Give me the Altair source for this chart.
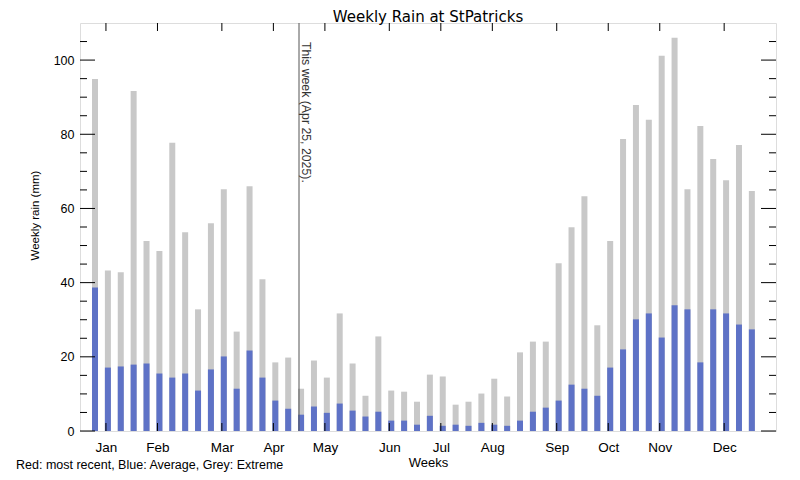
import altair as alt
import pandas as pd

weeks = list(range(1, 53))
average = [38.7, 17.1, 17.4, 17.9, 18.2, 15.5, 14.4, 15.5, 10.9, 16.6, 20.1, 11.4, 21.7,
           14.4, 8.2, 6.0, 4.4, 6.6, 4.9, 7.4, 5.5, 3.9, 5.2, 2.8, 2.8, 1.7, 4.1, 1.4,
           1.7, 1.4, 2.2, 1.7, 1.4, 2.8, 5.2, 6.3, 8.2, 12.5, 11.4, 9.5, 17.1, 22.0,
           30.1, 31.7, 25.2, 33.9, 32.8, 18.5, 32.8, 31.7, 28.7, 27.4]
extreme = [94.9, 43.3, 42.8, 91.7, 51.2, 48.5, 77.7, 53.6, 32.8, 56.0, 65.2, 26.8, 66.0,
           40.9, 18.5, 19.8, 11.4, 19.0, 14.4, 31.7, 18.2, 9.5, 25.5, 10.9, 10.6, 7.9,
           15.2, 14.7, 7.1, 7.9, 10.1, 14.1, 9.3, 21.2, 24.1, 24.1, 45.2, 54.9, 63.3,
           28.5, 51.2, 78.7, 87.9, 83.9, 101.2, 106.0, 65.2, 82.2, 73.3, 67.6, 77.1, 64.7]
month_names = ["Jan", "Feb", "Mar", "Apr", "May", "Jun", "Jul", "Aug", "Sep", "Oct", "Nov", "Dec"]
month_pos = [1.85, 5.85, 10.85, 14.85, 18.85, 23.85, 27.85, 31.85, 36.85, 40.85, 44.85, 49.85]
y_major = [0, 20, 40, 60, 80, 100]
y_minor = [v for v in range(5, 110, 5) if v % 20 != 0]
this_week = 16.84
this_week_label = "This week (Apr 25, 2025)."
title_text = "Weekly Rain at StPatricks"
footnote = "Red: most recent, Blue: Average, Grey: Extreme"

W, H = 696, 408
FONT = "Liberation Sans"
TFONT = "DejaVu Sans"

df = pd.DataFrame({"week": weeks, "average": average, "extreme": extreme})
xs = alt.Scale(domain=[-0.165, 53.875], nice=False, zero=False, padding=0)
ys = alt.Scale(domain=[0, 110], nice=False, zero=True, padding=0)

label_expr = "[" + ",".join(f"'{m}'" for m in month_names) + "][indexof([" + \
    ",".join(str(p) for p in month_pos) + "], datum.value)]"

x_axis = alt.Axis(values=month_pos, labelExpr=label_expr, ticks=False, domain=False,
                  grid=False, title="Weeks", labelFont=FONT, labelFontSize=13.5,
                  labelColor="black", labelPadding=9, labelFlush=False, labelOverlap=False,
                  titleFont=FONT, titleFontSize=13, titleFontWeight="normal",
                  titleColor="black", titleBaseline="alphabetic", titleY=35,
                  titleX=W / 2)
y_axis = alt.Axis(values=y_major, ticks=False, domain=False, grid=False,
                  title="Weekly rain (mm)", labelFont=FONT, labelFontSize=12.5,
                  labelColor="black", labelPadding=6, labelFlush=False,
                  titleFont=FONT, titleFontSize=11.5, titleFontWeight="normal",
                  titleColor="black", titleAngle=270, titleAlign="center",
                  titleBaseline="middle", titleX=-45, titleY=192)

grey = alt.Chart(df).mark_bar(size=6, color="#c8c8c8").encode(
    x=alt.X("week:Q", scale=xs, axis=x_axis),
    y=alt.Y("extreme:Q", scale=ys, axis=y_axis),
)
blue = alt.Chart(df).mark_bar(size=6, color="#5e72c6").encode(
    x=alt.X("week:Q", scale=xs, axis=x_axis),
    y=alt.Y("average:Q", scale=ys, axis=y_axis),
)

mdf = pd.DataFrame({"week": month_pos})
xt_bot = alt.Chart(mdf).mark_rule(color="black").encode(
    x=alt.X("week:Q", scale=xs, axis=x_axis), y=alt.value(H), y2=alt.value(H - 8))
xt_top = alt.Chart(mdf).mark_rule(color="black").encode(
    x=alt.X("week:Q", scale=xs, axis=x_axis), y=alt.value(0), y2=alt.value(8))

majdf = pd.DataFrame({"extreme": y_major})
mindf = pd.DataFrame({"extreme": y_minor})
yt = []
for d, L in ((majdf, 15), (mindf, 7)):
    yt.append(alt.Chart(d).mark_rule(color="black").encode(
        y=alt.Y("extreme:Q", scale=ys, axis=y_axis), x=alt.value(0), x2=alt.value(L)))
    yt.append(alt.Chart(d).mark_rule(color="black").encode(
        y=alt.Y("extreme:Q", scale=ys, axis=y_axis), x=alt.value(W), x2=alt.value(W - L)))

tw = pd.DataFrame({"week": [this_week], "label": [this_week_label]})
tw_line = alt.Chart(tw).mark_rule(color="#555555", strokeWidth=1).encode(
    x=alt.X("week:Q", scale=xs, axis=x_axis), y=alt.value(0), y2=alt.value(H))
tw_text = alt.Chart(tw).mark_text(angle=90, align="left", baseline="alphabetic", dy=-3,
                                  font=FONT, fontSize=12.3, color="#333333").encode(
    x=alt.X("week:Q", scale=xs, axis=x_axis), y=alt.value(19), text="label:N")

fn = alt.Chart(pd.DataFrame({"t": [footnote]})).mark_text(
    align="left", baseline="alphabetic", font=FONT, fontSize=12.5, color="black").encode(
    x=alt.value(-64), y=alt.value(446), text="t:N")

ttl = alt.Chart(pd.DataFrame({"t": [title_text]})).mark_text(
    align="center", baseline="alphabetic", font=TFONT, fontSize=15, color="black").encode(
    x=alt.value(W / 2), y=alt.value(-1.5), text="t:N")

chart = alt.layer(grey, blue, xt_bot, xt_top, *yt, tw_line, tw_text, fn, ttl).properties(
    width=W, height=H,
    autosize=alt.AutoSizeParams(type="none"),
    padding={"left": 72, "top": 15, "right": 16, "bottom": 41},
).configure_view(stroke="black", strokeWidth=1).configure(background="white")

chart.save("out.html", embed_options={"renderer": "svg", "actions": False})
